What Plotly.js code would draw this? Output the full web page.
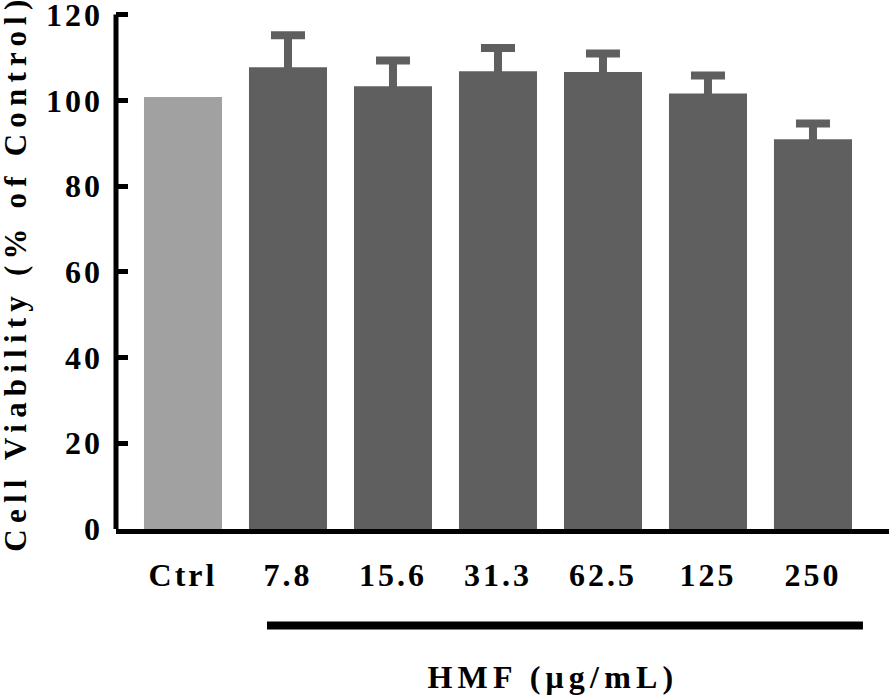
<!DOCTYPE html>
<html><head><meta charset="utf-8">
<script src="https://cdn.plot.ly/plotly-3.0.1.min.js"></script>
<style>html,body{margin:0;padding:0;background:#fff;} #chart{width:889px;height:697px;}</style>
</head><body><div id="chart"></div>
<script>
// ---- data ----
const categories = ['Ctrl', '7.8', '15.6', '31.3', '62.5', '125', '250'];
const ctrlLabel = ['Ctrl'];
const ctrlValue = [100.8];
const hmfDoses = ['7.8', '15.6', '31.3', '62.5', '125', '250'];
const hmfValues = [107.7, 103.3, 106.8, 106.6, 101.6, 90.9];
const hmfErrors = [7.5, 6.0, 5.4, 4.3, 4.2, 3.7];
const yTicks = [0, 20, 40, 60, 80, 100, 120];
const yTitle = 'Cell Viability (% of Control)';
const groupTitle = 'HMF (μg/mL)';

// ---- style ----
const FONT = '"Liberation Serif", "Times New Roman", Times, serif';
const DARK = '#5f5f5f';
const LIGHT = '#a1a1a1';
const BARW = 0.743;
const TXT = {family: FONT, size: 32, color: '#000', weight: 'bold'};
const TTL = {family: FONT, size: 31, color: '#000', weight: 'bold'};

const traces = [
  {
    type: 'bar', x: ctrlLabel, y: ctrlValue, width: BARW,
    marker: {color: LIGHT, line: {width: 0}}, hoverinfo: 'skip'
  },
  {
    type: 'bar', x: hmfDoses, y: hmfValues, width: BARW,
    marker: {color: DARK, line: {width: 0}}, hoverinfo: 'skip',
    error_y: {type: 'data', array: hmfErrors, visible: true, color: DARK, thickness: 8, width: 17}
  }
];

const layout = {
  width: 889, height: 697,
  margin: {l: 116, r: 0, t: 6, b: 168, pad: 0},
  paper_bgcolor: '#ffffff', plot_bgcolor: '#ffffff',
  showlegend: false,
  barmode: 'overlay',
  font: TXT,
  xaxis: {
    type: 'category', categoryorder: 'array', categoryarray: categories,
    range: [-0.638, 6.724],
    showline: true, linewidth: 5, linecolor: '#000',
    ticks: '', showgrid: false, zeroline: false,
    tickfont: TXT,
    ticklabelstandoff: 14,
    fixedrange: true
  },
  yaxis: {
    range: [0, 122], tickmode: 'array', tickvals: yTicks, ticktext: yTicks.map(String),
    showline: false,
    ticks: 'inside', ticklen: 12, tickwidth: 5, tickcolor: '#000',
    showgrid: false, zeroline: false,
    tickfont: TXT,
    ticklabelstandoff: 12,
    ticklabeloverflow: 'allow',
    fixedrange: true
  },
  shapes: [
    // y-axis spine from 0 up to the top tick (120)
    {type: 'line', xref: 'paper', yref: 'y', x0: 0, x1: 0, y0: 0, y1: yTicks[yTicks.length - 1],
     line: {color: '#000', width: 5}},
    // bracket under the HMF doses
    {type: 'line', xref: 'x', yref: 'paper', x0: 0.8, x1: 6.476, y0: -0.1845, y1: -0.1845,
     line: {color: '#000', width: 8}}
  ],
  annotations: [
    {xref: 'paper', yref: 'paper', x: -0.130, y: 0.489, xanchor: 'center', yanchor: 'middle',
     textangle: -90, text: yTitle, showarrow: false, font: TTL},
    {xref: 'x', yref: 'paper', x: 3.524, y: -0.283, xanchor: 'center', yanchor: 'middle',
     text: groupTitle, showarrow: false, font: TXT}
  ]
};

Plotly.newPlot('chart', traces, layout, {staticPlot: true, displayModeBar: false}).then(function () {
  document.querySelectorAll('#chart .xtick text, #chart .ytick text').forEach(function (t) { t.style.letterSpacing = '3px'; });
  const ann = document.querySelectorAll('#chart .annotation-text');
  if (ann[0]) ann[0].style.letterSpacing = '6.2px';
  if (ann[1]) ann[1].style.letterSpacing = '5.2px';
});
</script>
</body></html>
